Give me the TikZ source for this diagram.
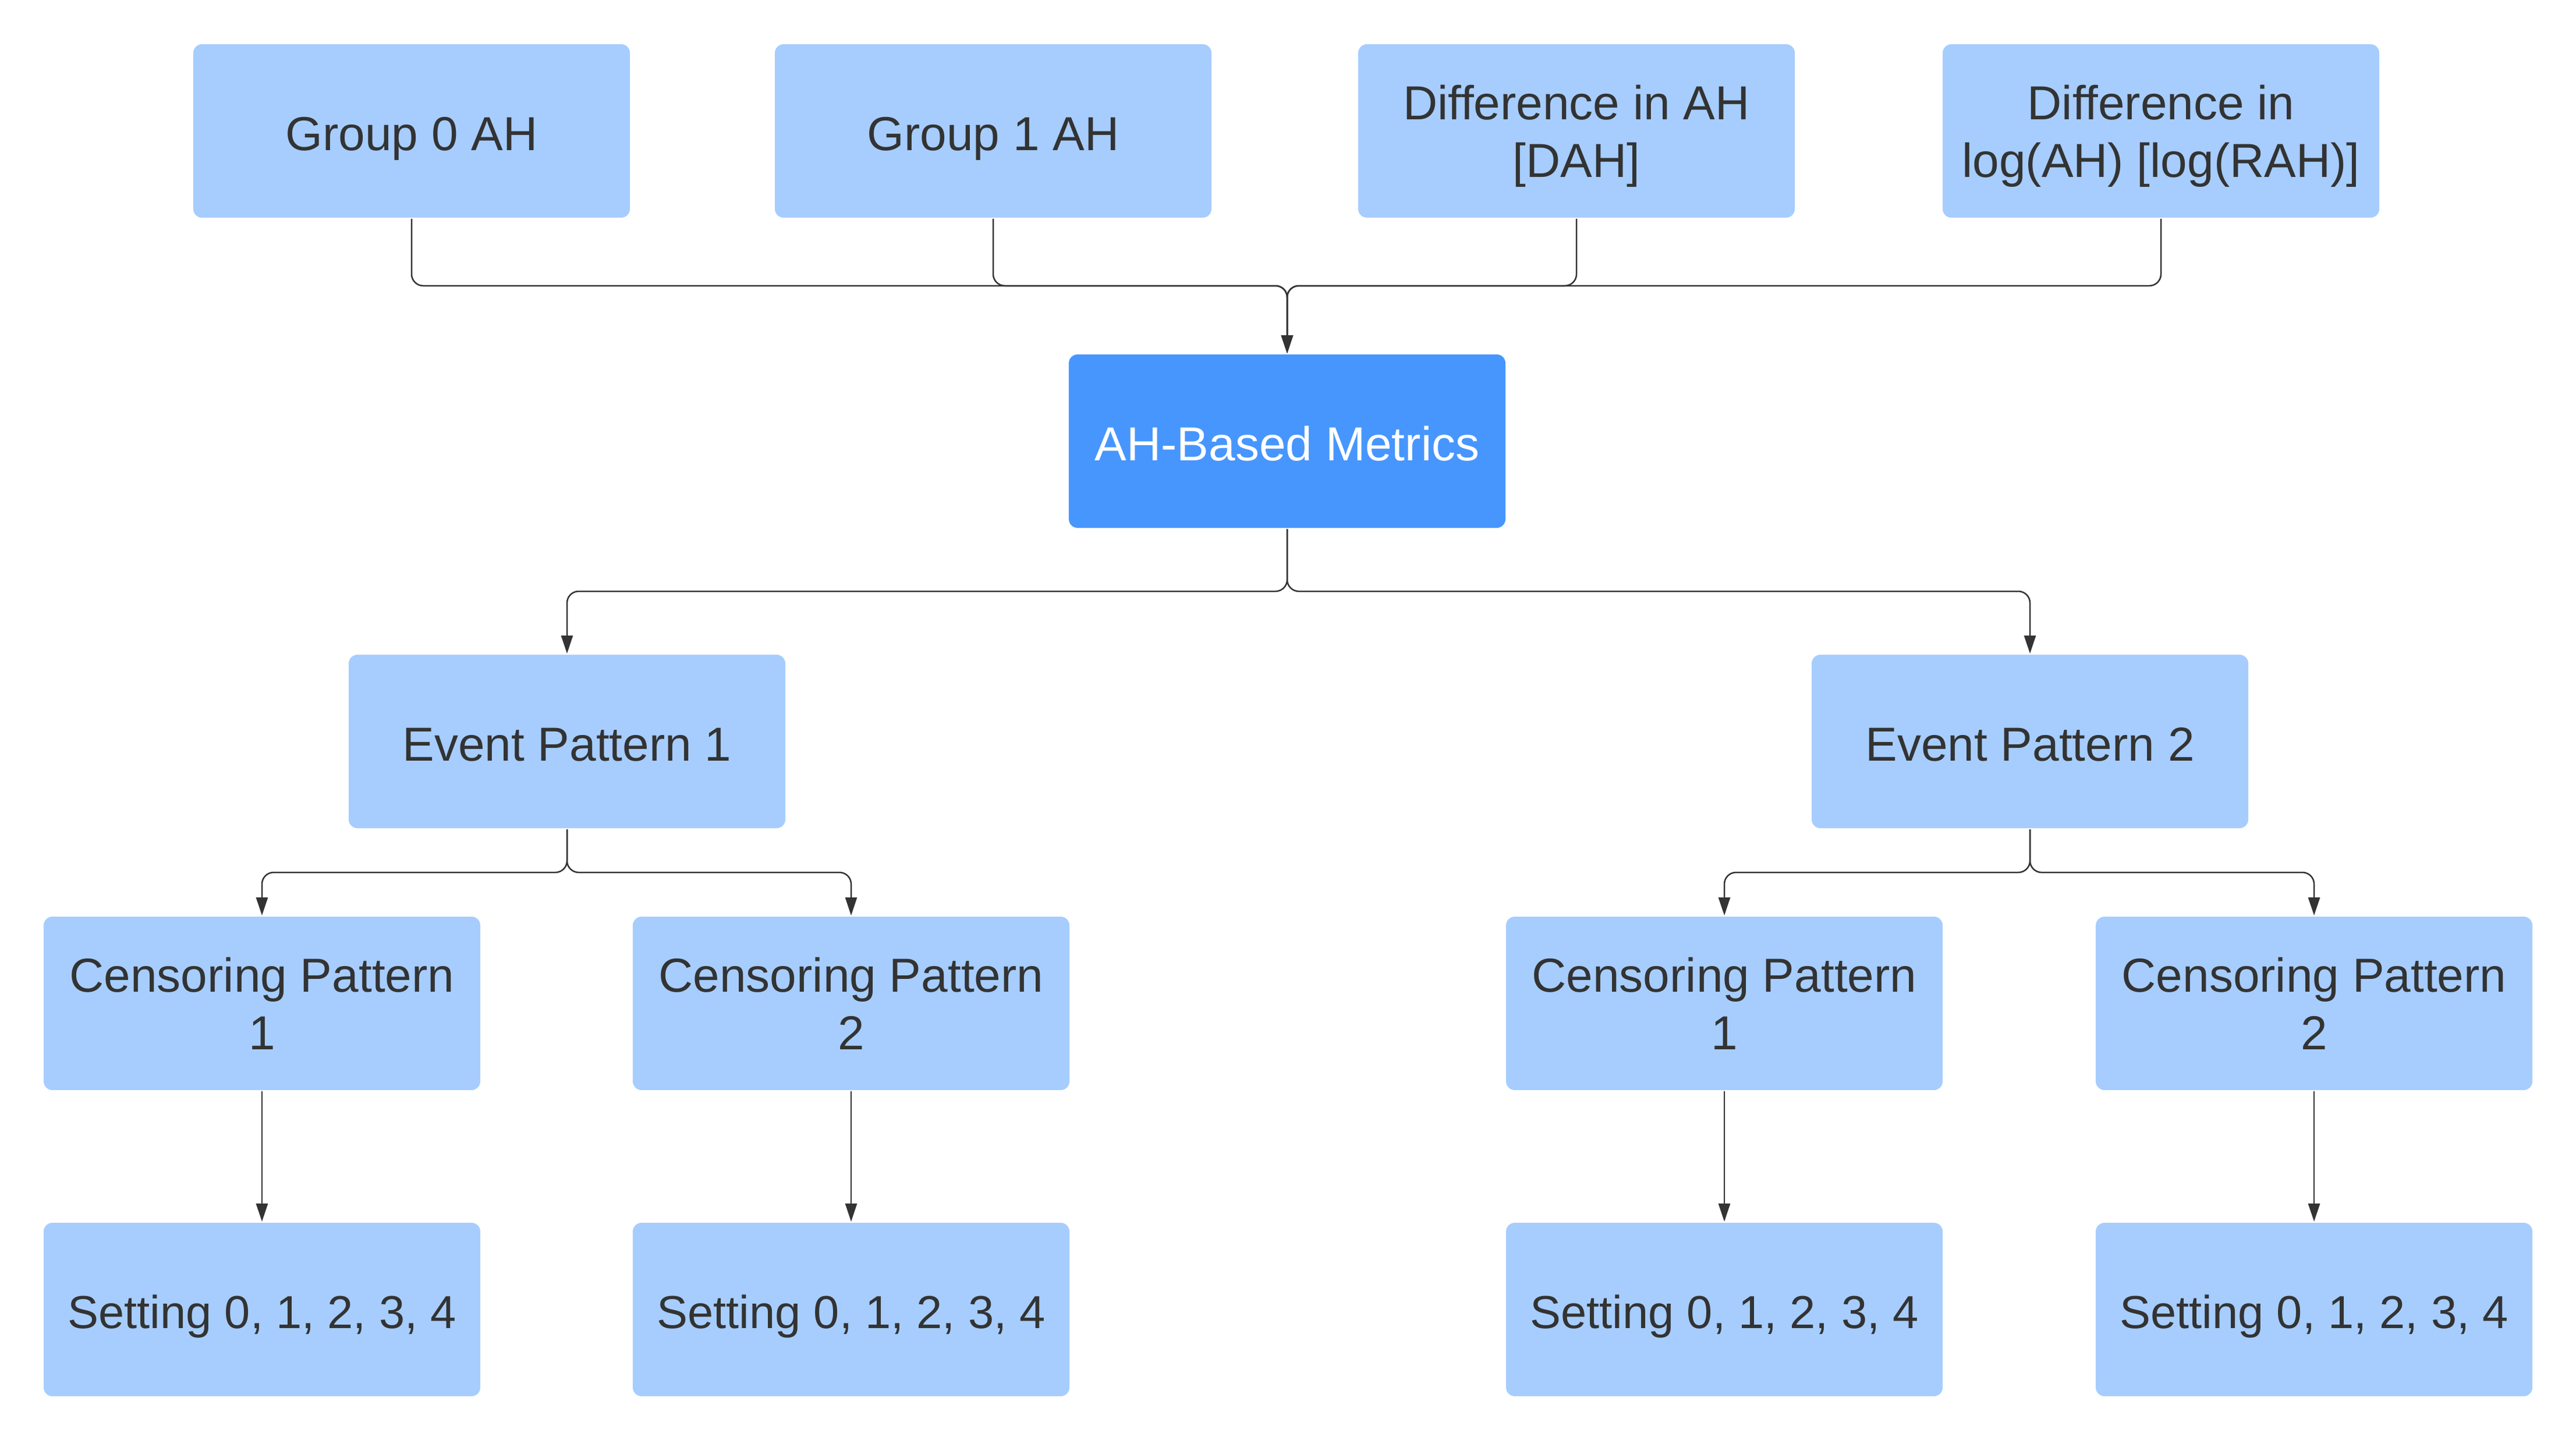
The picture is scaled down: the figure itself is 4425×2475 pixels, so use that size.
\documentclass[tikz,border=0pt]{standalone}
\usepackage{fontspec}
\setmainfont{Liberation Sans}
\usetikzlibrary{arrows.meta}
\definecolor{lightbox}{HTML}{A6CDFE}
\definecolor{darkbox}{HTML}{4796FE}
\definecolor{ink}{HTML}{333333}
\newcommand\lnstrut{\rule[-0.25em]{0pt}{1.32em}}
\newcommand\lnlast{\rule[-0.35em]{0pt}{0.35em}}
\tikzset{
  box/.style={rectangle, rounded corners=1.5pt, fill=lightbox, draw=none,
    minimum width=75pt, minimum height=29.8pt, inner sep=0pt, align=center,
    text=ink, font=\fontsize{8.2}{9.9}\selectfont, execute at begin node=\lnstrut},
  setbox/.style={box, font=\fontsize{7.95}{9.9}\selectfont},
  mainbox/.style={box, fill=darkbox, text=white},
  link/.style={draw=ink, line width=0.25pt, rounded corners=2pt,
    -{Stealth[length=3.1pt,width=2pt,inset=0pt]}}
}
\begin{document}
\begin{tikzpicture}[x=0.1pt,y=-0.1pt]
\useasboundingbox (0,0) rectangle (4425,2475);
% top row
\node[box] (g0) at (707,225) {Group 0 AH};
\node[box] (g1) at (1706,225) {Group 1 AH};
\node[box] (dah) at (2708,225) {\lnstrut Difference in AH\\\lnlast{}[DAH]};
\node[box] (rah) at (3712,225) {\lnstrut Difference in\\\lnlast log(AH) [log(RAH)]};
% metrics
\node[mainbox] (m) at (2211,758) {AH-Based Metrics};
% event patterns
\node[box] (e1) at (974,1274) {Event Pattern 1};
\node[box] (e2) at (3487,1274) {Event Pattern 2};
% censoring patterns
\node[box] (c11) at (450,1724) {\lnstrut Censoring Pattern\\\lnlast 1};
\node[box] (c12) at (1462,1724) {\lnstrut Censoring Pattern\\\lnlast 2};
\node[box] (c21) at (2962,1724) {\lnstrut Censoring Pattern\\\lnlast 1};
\node[box] (c22) at (3975,1724) {\lnstrut Censoring Pattern\\\lnlast 2};
% settings
\node[setbox] (s11) at (450,2250) {Setting 0, 1, 2, 3, 4};
\node[setbox] (s12) at (1462,2250) {Setting 0, 1, 2, 3, 4};
\node[setbox] (s21) at (2962,2250) {Setting 0, 1, 2, 3, 4};
\node[setbox] (s22) at (3975,2250) {Setting 0, 1, 2, 3, 4};
% junction levels
\coordinate (jtop) at (0,491);
\coordinate (jm) at (0,1016);
\coordinate (je) at (0,1499);
% connectors top -> metrics
\foreach \n in {g0,g1,dah,rah}
  \draw[link] (\n.south) -- (\n.south |- jtop) -- (m.north |- jtop) -- (m.north);
% metrics -> event patterns
\draw[link] (m.south) -- (m.south |- jm) -- (e1.north |- jm) -- (e1.north);
\draw[link] (m.south) -- (m.south |- jm) -- (e2.north |- jm) -- (e2.north);
% event -> censoring
\draw[link] (e1.south) -- (e1.south |- je) -- (c11.north |- je) -- (c11.north);
\draw[link] (e1.south) -- (e1.south |- je) -- (c12.north |- je) -- (c12.north);
\draw[link] (e2.south) -- (e2.south |- je) -- (c21.north |- je) -- (c21.north);
\draw[link] (e2.south) -- (e2.south |- je) -- (c22.north |- je) -- (c22.north);
% censoring -> settings
\draw[link] (c11) -- (s11);
\draw[link] (c12) -- (s12);
\draw[link] (c21) -- (s21);
\draw[link] (c22) -- (s22);
\end{tikzpicture}
\end{document}
